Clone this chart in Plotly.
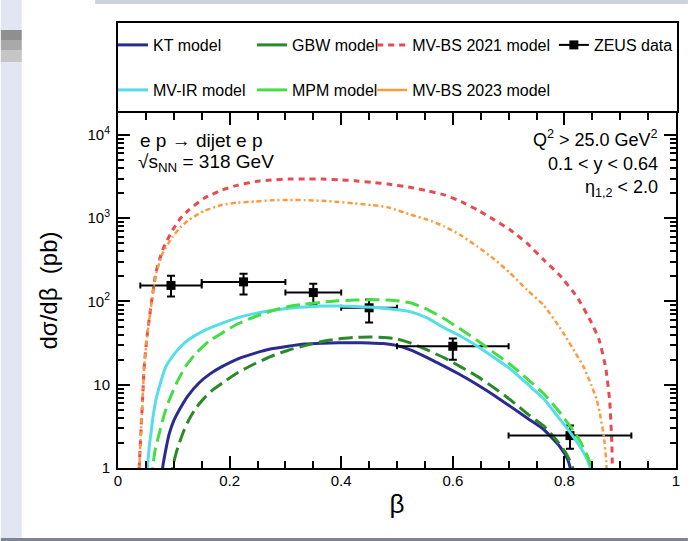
import plotly.graph_objects as go

# ---------------- data ----------------
kt_beta = [0.078, 0.080, 0.086, 0.092, 0.100, 0.110, 0.125, 0.145, 0.165, 0.187, 0.215, 0.246, 0.275, 0.305, 0.335, 0.365, 0.395, 0.424, 0.450, 0.475, 0.500, 0.525, 0.555, 0.585, 0.615, 0.644, 0.675, 0.703, 0.735, 0.763, 0.792, 0.805, 0.812, 0.816]
kt_val = [0.4, 1.0, 1.7, 2.6, 3.7, 5.0, 7.3, 10.5, 13.5, 16.6, 20.5, 24, 27, 29, 30.8, 31.6, 32, 32, 31.8, 31.2, 29.5, 26, 21, 16.6, 13, 10, 7.4, 5.5, 3.9, 2.9, 1.8, 1.3, 0.9, 0.4]

gbw_beta = [0.096, 0.098, 0.104, 0.110, 0.118, 0.127, 0.140, 0.157, 0.172, 0.187, 0.215, 0.246, 0.275, 0.305, 0.335, 0.365, 0.395, 0.424, 0.450, 0.475, 0.500, 0.525, 0.555, 0.585, 0.615, 0.644, 0.675, 0.703, 0.735, 0.763, 0.785, 0.803, 0.815, 0.823]
gbw_val = [0.4, 1.0, 1.5, 2.0, 2.8, 3.8, 5.3, 7.2, 8.9, 10.5, 14, 18, 22, 26, 29.5, 33, 35.5, 37, 37.5, 37, 35.5, 31.6, 26, 21, 16.3, 12.6, 9.1, 6.6, 4.4, 3.2, 2.2, 1.5, 1.0, 0.4]

mvbs21_beta = [0.036, 0.038, 0.041, 0.044, 0.047, 0.052, 0.059, 0.068, 0.080, 0.098, 0.112, 0.127, 0.155, 0.187, 0.215, 0.246, 0.275, 0.305, 0.335, 0.365, 0.395, 0.424, 0.455, 0.484, 0.525, 0.555, 0.585, 0.615, 0.644, 0.675, 0.703, 0.733, 0.763, 0.792, 0.822, 0.846, 0.862, 0.874, 0.881, 0.885, 0.887]
mvbs21_val = [0.4, 1.0, 2.6, 6.5, 16.6, 38, 87, 224, 417, 724, 1000, 1259, 1750, 2188, 2500, 2754, 2880, 2951, 2970, 2951, 2900, 2818, 2700, 2570, 2344, 2130, 1905, 1580, 1259, 950, 724, 501, 316, 205, 115, 60, 35, 16, 6.6, 2.0, 0.4]

zeus_beta = [0.095, 0.225, 0.35, 0.45, 0.6, 0.81]
zeus_bin_half = [0.055, 0.075, 0.05, 0.05, 0.1, 0.11]
zeus_val = [156, 172, 128, 84, 29, 2.45]
zeus_err_up = [48, 44, 35, 22, 7, 0.8]
zeus_err_down = [41, 51, 37, 28, 9, 0.75]

mvir_beta = [0.051, 0.053, 0.056, 0.059, 0.063, 0.068, 0.076, 0.086, 0.100, 0.115, 0.127, 0.155, 0.187, 0.215, 0.246, 0.275, 0.305, 0.335, 0.365, 0.395, 0.424, 0.455, 0.484, 0.505, 0.525, 0.555, 0.585, 0.615, 0.644, 0.675, 0.703, 0.735, 0.763, 0.790, 0.810, 0.828, 0.840, 0.848, 0.853]
mvir_val = [0.4, 1.0, 1.8, 2.6, 4.2, 6.6, 10.5, 16.6, 23, 30, 35, 45, 55, 64, 72, 78, 83, 86, 88, 88.5, 87, 85, 82, 79, 75, 63, 48, 38, 29, 21, 15.5, 10, 6.8, 4.0, 2.7, 1.8, 1.3, 0.9, 0.4]

mpm_beta = [0.060, 0.062, 0.067, 0.074, 0.082, 0.092, 0.105, 0.121, 0.140, 0.162, 0.187, 0.215, 0.246, 0.275, 0.305, 0.335, 0.365, 0.395, 0.424, 0.445, 0.466, 0.485, 0.505, 0.525, 0.555, 0.585, 0.615, 0.644, 0.675, 0.703, 0.735, 0.763, 0.790, 0.810, 0.830, 0.843, 0.851, 0.857]
mpm_val = [0.4, 1.0, 1.7, 2.6, 4.2, 6.6, 10.5, 16.6, 24, 33, 42, 54, 66, 77, 87, 93, 98, 102, 104, 105, 105, 104, 101, 96, 80, 62, 46, 34, 24, 17.5, 11.5, 7.8, 4.8, 3.2, 2.0, 1.3, 0.9, 0.4]

mvbs23_beta = [0.036, 0.038, 0.041, 0.044, 0.047, 0.052, 0.059, 0.068, 0.080, 0.098, 0.112, 0.127, 0.155, 0.187, 0.215, 0.246, 0.275, 0.305, 0.335, 0.365, 0.395, 0.424, 0.455, 0.484, 0.525, 0.555, 0.585, 0.615, 0.644, 0.675, 0.703, 0.733, 0.763, 0.798, 0.820, 0.834, 0.848, 0.858, 0.865, 0.871, 0.875, 0.878]
mvbs23_val = [0.4, 1.0, 2.6, 6.5, 16.6, 37, 85, 210, 380, 600, 780, 955, 1230, 1450, 1540, 1590, 1640, 1660, 1650, 1620, 1570, 1510, 1440, 1350, 1100, 960, 795, 620, 457, 320, 219, 138, 90, 42, 24, 16.6, 10, 6.6, 4.0, 2.3, 1.2, 0.4]

y_tickvals = [1, 10, 100, 1000, 10000]
y_ticktext = ["1", "10", "10<sup>2</sup>", "10<sup>3</sup>", "10<sup>4</sup>"]
x_tickvals = [0, 0.2, 0.4, 0.6, 0.8, 1.0]
x_ticktext = ["0", "0.2", "0.4", "0.6", "0.8", "1"]
y_minor = [m * 10 ** d for d in range(5) for m in range(2, 10)]

# ---------------- layout geometry ----------------
W, H = 692, 541
L, R, T, B = 118, 12, 113, 73
PW, PH = W - L - R, H - T - B


def px(x):
    return (x - L) / PW


def py(y):
    return (H - B - y) / PH


FONT = "Liberation Sans, Arial, Helvetica, sans-serif"

fig = go.Figure()


def curve(xs, ys, name, color, width, dash, legend, legend_dash=None):
    same = legend_dash is None
    fig.add_trace(go.Scatter(
        x=xs, y=ys, mode="lines", name=name, legend=legend, legendgroup=name,
        showlegend=same,
        line=dict(color=color, width=width, dash=dash, shape="spline", smoothing=0.5),
    ))
    if not same:
        # legend sample drawn as in the reference (solid stroke)
        fig.add_trace(go.Scatter(
            x=[None], y=[None], mode="lines", name=name, legend=legend, legendgroup=name,
            line=dict(color=color, width=width, dash=legend_dash),
        ))


curve(kt_beta, kt_val, "KT model", "#2b2b8f", 3, "solid", "legend")
curve(gbw_beta, gbw_val, "GBW model", "#2a8a2a", 3, "14px,6px", "legend2", "solid")
curve(mvbs21_beta, mvbs21_val, "MV-BS 2021 model", "#e84a52", 3, "6px,5px", "legend3")

# ZEUS data (points with error bars) + legend sample
fig.add_trace(go.Scatter(
    x=zeus_beta, y=zeus_val, mode="markers", name="ZEUS data", showlegend=False,
    legendgroup="ZEUS data",
    marker=dict(symbol="square", size=9, color="black"),
    error_x=dict(type="data", array=zeus_bin_half, color="black", thickness=2, width=3),
    error_y=dict(type="data", symmetric=False, array=zeus_err_up, arrayminus=zeus_err_down,
                 color="black", thickness=2, width=4),
))
fig.add_trace(go.Scatter(
    x=[None], y=[None], mode="lines+markers", name="ZEUS data", legend="legend4",
    legendgroup="ZEUS data",
    line=dict(color="black", width=2), marker=dict(symbol="square", size=9, color="black"),
))

curve(mvir_beta, mvir_val, "MV-IR model", "#55dde8", 3, "solid", "legend5")
curve(mpm_beta, mpm_val, "MPM model", "#44dd44", 3, "14px,6px", "legend6", "solid")
curve(mvbs23_beta, mvbs23_val, "MV-BS 2023 model", "#ff9a3c", 2.5, "5px,3px,2px,3px", "legend7", "solid")

legend_pos = {
    "legend": (113, 45), "legend2": (253, 45), "legend3": (374, 45), "legend4": (557, 45),
    "legend5": (113, 90), "legend6": (253, 90), "legend7": (374, 90),
}
legend_common = dict(xanchor="left", yanchor="middle", bgcolor="rgba(0,0,0,0)",
                     borderwidth=0, font=dict(family=FONT, size=16, color="black"),
                     itemwidth=30, orientation="v")
legends = {k: dict(x=px(v[0]), y=py(v[1]), **legend_common) for k, v in legend_pos.items()}

shapes = [
    # slide-background decoration around the pasted chart
    dict(type="rect", xref="paper", yref="paper", x0=px(0), x1=px(21), y0=py(541), y1=py(0),
         fillcolor="#e1e6f2", line=dict(width=0), layer="below"),
    dict(type="rect", xref="paper", yref="paper", x0=px(0), x1=px(21), y0=py(40), y1=py(30),
         fillcolor="#8f8f8f", line=dict(width=0), layer="below"),
    dict(type="rect", xref="paper", yref="paper", x0=px(0), x1=px(21), y0=py(50), y1=py(40),
         fillcolor="#a9a9a9", line=dict(width=0), layer="below"),
    dict(type="rect", xref="paper", yref="paper", x0=px(0), x1=px(21), y0=py(62), y1=py(50),
         fillcolor="#c6c6c6", line=dict(width=0), layer="below"),
    dict(type="rect", xref="paper", yref="paper", x0=px(95), x1=px(692), y0=py(4), y1=py(0),
         fillcolor="#ccd2df", line=dict(width=0), layer="below"),
    dict(type="rect", xref="paper", yref="paper", x0=px(0), x1=px(692), y0=py(541), y1=py(538),
         fillcolor="#7d8595", line=dict(width=0), layer="below"),
    # legend frame
    dict(type="rect", xref="paper", yref="paper", x0=px(117), x1=px(682), y0=py(112), y1=py(22),
         line=dict(color="black", width=2), fillcolor="rgba(0,0,0,0)"),
]

left_font = dict(family=FONT, size=19, color="black")
right_font = dict(family=FONT, size=18, color="black")
annotations = [
    dict(text="e p → dijet e p", x=px(138), y=py(140), xanchor="left", yanchor="middle", font=left_font),
    dict(text="√s<sub>NN</sub> = 318 GeV", x=px(136), y=py(163), xanchor="left", yanchor="middle", font=left_font),
    dict(text="Q<sup>2</sup> &gt; 25.0 GeV<sup>2</sup>", x=px(664), y=py(138), xanchor="right", yanchor="middle", font=right_font),
    dict(text="0.1 &lt; y &lt; 0.64", x=px(664), y=py(164), xanchor="right", yanchor="middle", font=right_font),
    dict(text="η<sub>1,2</sub> &lt; 2.0", x=px(664), y=py(188), xanchor="right", yanchor="middle", font=right_font),
]
for a in annotations:
    a.update(xref="paper", yref="paper", showarrow=False)

fig.update_layout(
    width=W, height=H, autosize=False,
    margin=dict(l=L, r=R, t=T, b=B, pad=0),
    paper_bgcolor="white", plot_bgcolor="white",
    font=dict(family=FONT, color="black"),
    shapes=shapes, annotations=annotations,
    **legends,
)

fig.update_xaxes(
    range=[0, 1], showgrid=False, zeroline=False,
    showline=True, linecolor="black", linewidth=2, mirror="allticks",
    ticks="inside", ticklen=12, tickwidth=2, tickcolor="black",
    tickvals=x_tickvals, ticktext=x_ticktext, tickfont=dict(family=FONT, size=15),
    ticklabelstandoff=-2,
    minor=dict(tickvals=[i / 20 for i in range(21)], ticks="inside", ticklen=7,
               tickwidth=2, tickcolor="black", showgrid=False),
    title=dict(text="β", font=dict(family=FONT, size=26), standoff=7),
)
fig.update_yaxes(
    type="log", range=[0, 4.264], showgrid=False, zeroline=False,
    showline=True, linecolor="black", linewidth=2, mirror="allticks",
    ticks="inside", ticklen=12, tickwidth=2, tickcolor="black",
    tickvals=y_tickvals, ticktext=y_ticktext, tickfont=dict(family=FONT, size=15),
    ticklabelstandoff=3,
    minor=dict(tickvals=y_minor, ticks="inside", ticklen=6, tickwidth=1.5,
               tickcolor="black", showgrid=False),
    title=dict(text="dσ/dβ  (pb)", font=dict(family=FONT, size=24), standoff=23),
)

fig.write_html("out.html", config={"displayModeBar": False},
               post_script="document.body.style.margin='0';")
